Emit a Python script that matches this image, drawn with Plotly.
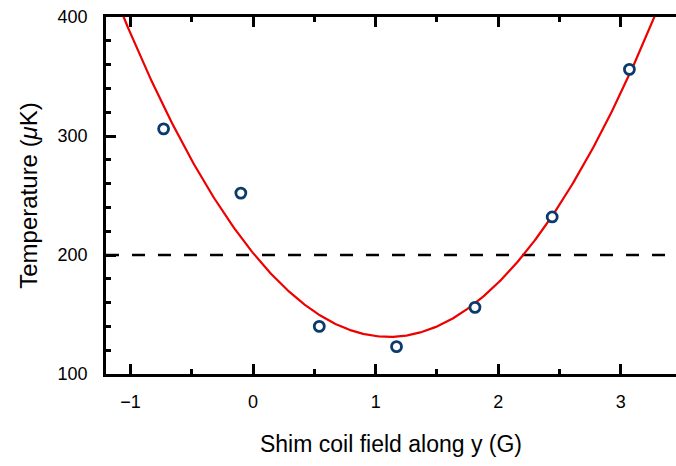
import numpy as np
import plotly.graph_objects as go

shim_field = [-0.73, -0.10, 0.54, 1.17, 1.81, 2.44, 3.07]
temperature = [306, 252, 140, 123, 156, 232, 356]
threshold = 200

x_ticks = [-1, 0, 1, 2, 3]
y_ticks = [100, 200, 300, 400]

# Quadratic least-squares fit of the measured points
coef = np.polyfit(shim_field, temperature, 2)
xf = np.linspace(-1.2, 3.45, 400)
yf = np.polyval(coef, xf)

FONT = "Liberation Sans, Arial, sans-serif"

fig = go.Figure()
fig.add_trace(go.Scatter(x=[-1.2, 3.45], y=[threshold, threshold], mode="lines",
                         line=dict(color="black", width=2.6, dash="13px,13px"),
                         hoverinfo="skip"))
fig.add_trace(go.Scatter(x=xf, y=yf, mode="lines",
                         line=dict(color="#ee0000", width=2.2)))
fig.add_trace(go.Scatter(x=shim_field, y=temperature, mode="markers",
                         marker=dict(symbol="circle", size=10, color="white",
                                     line=dict(color="#0b3a6e", width=2.8))))

fig.update_layout(
    width=676, height=466,
    margin=dict(l=106, r=0, t=17, b=92),
    plot_bgcolor="white", paper_bgcolor="white",
    showlegend=False,
    font=dict(family=FONT, color="black", size=18),
)
fig.update_xaxes(
    range=[-1.2, 3.45], tickvals=x_ticks, ticktext=["\u22121", "0", "1", "2", "3"],
    ticks="inside", ticklen=10, tickwidth=2.5, tickcolor="black",
    showline=True, linewidth=2.6, linecolor="black", mirror="ticks",
    showgrid=False, zeroline=False,
    minor=dict(dtick=0.5, tick0=0, ticks="inside", ticklen=5, tickwidth=2.5, tickcolor="black", showgrid=False),
    tickfont=dict(size=18), ticklabelstandoff=10,
    title=dict(text="Shim coil field along y (G)", font=dict(size=23), standoff=25),
)
fig.update_yaxes(
    range=[100, 400], tickvals=y_ticks,
    ticks="inside", ticklen=10, tickwidth=2.5, tickcolor="black",
    showline=True, linewidth=2.6, linecolor="black", mirror=False,
    showgrid=False, zeroline=False,
    minor=dict(dtick=20, tick0=0, ticks="inside", ticklen=5, tickwidth=2.5, tickcolor="black", showgrid=False),
    tickfont=dict(size=18), ticklabelstandoff=12,
    title=dict(text="Temperature (<i>\u03bc</i>K)", font=dict(size=24), standoff=14),
)

fig.write_html("out.html")
